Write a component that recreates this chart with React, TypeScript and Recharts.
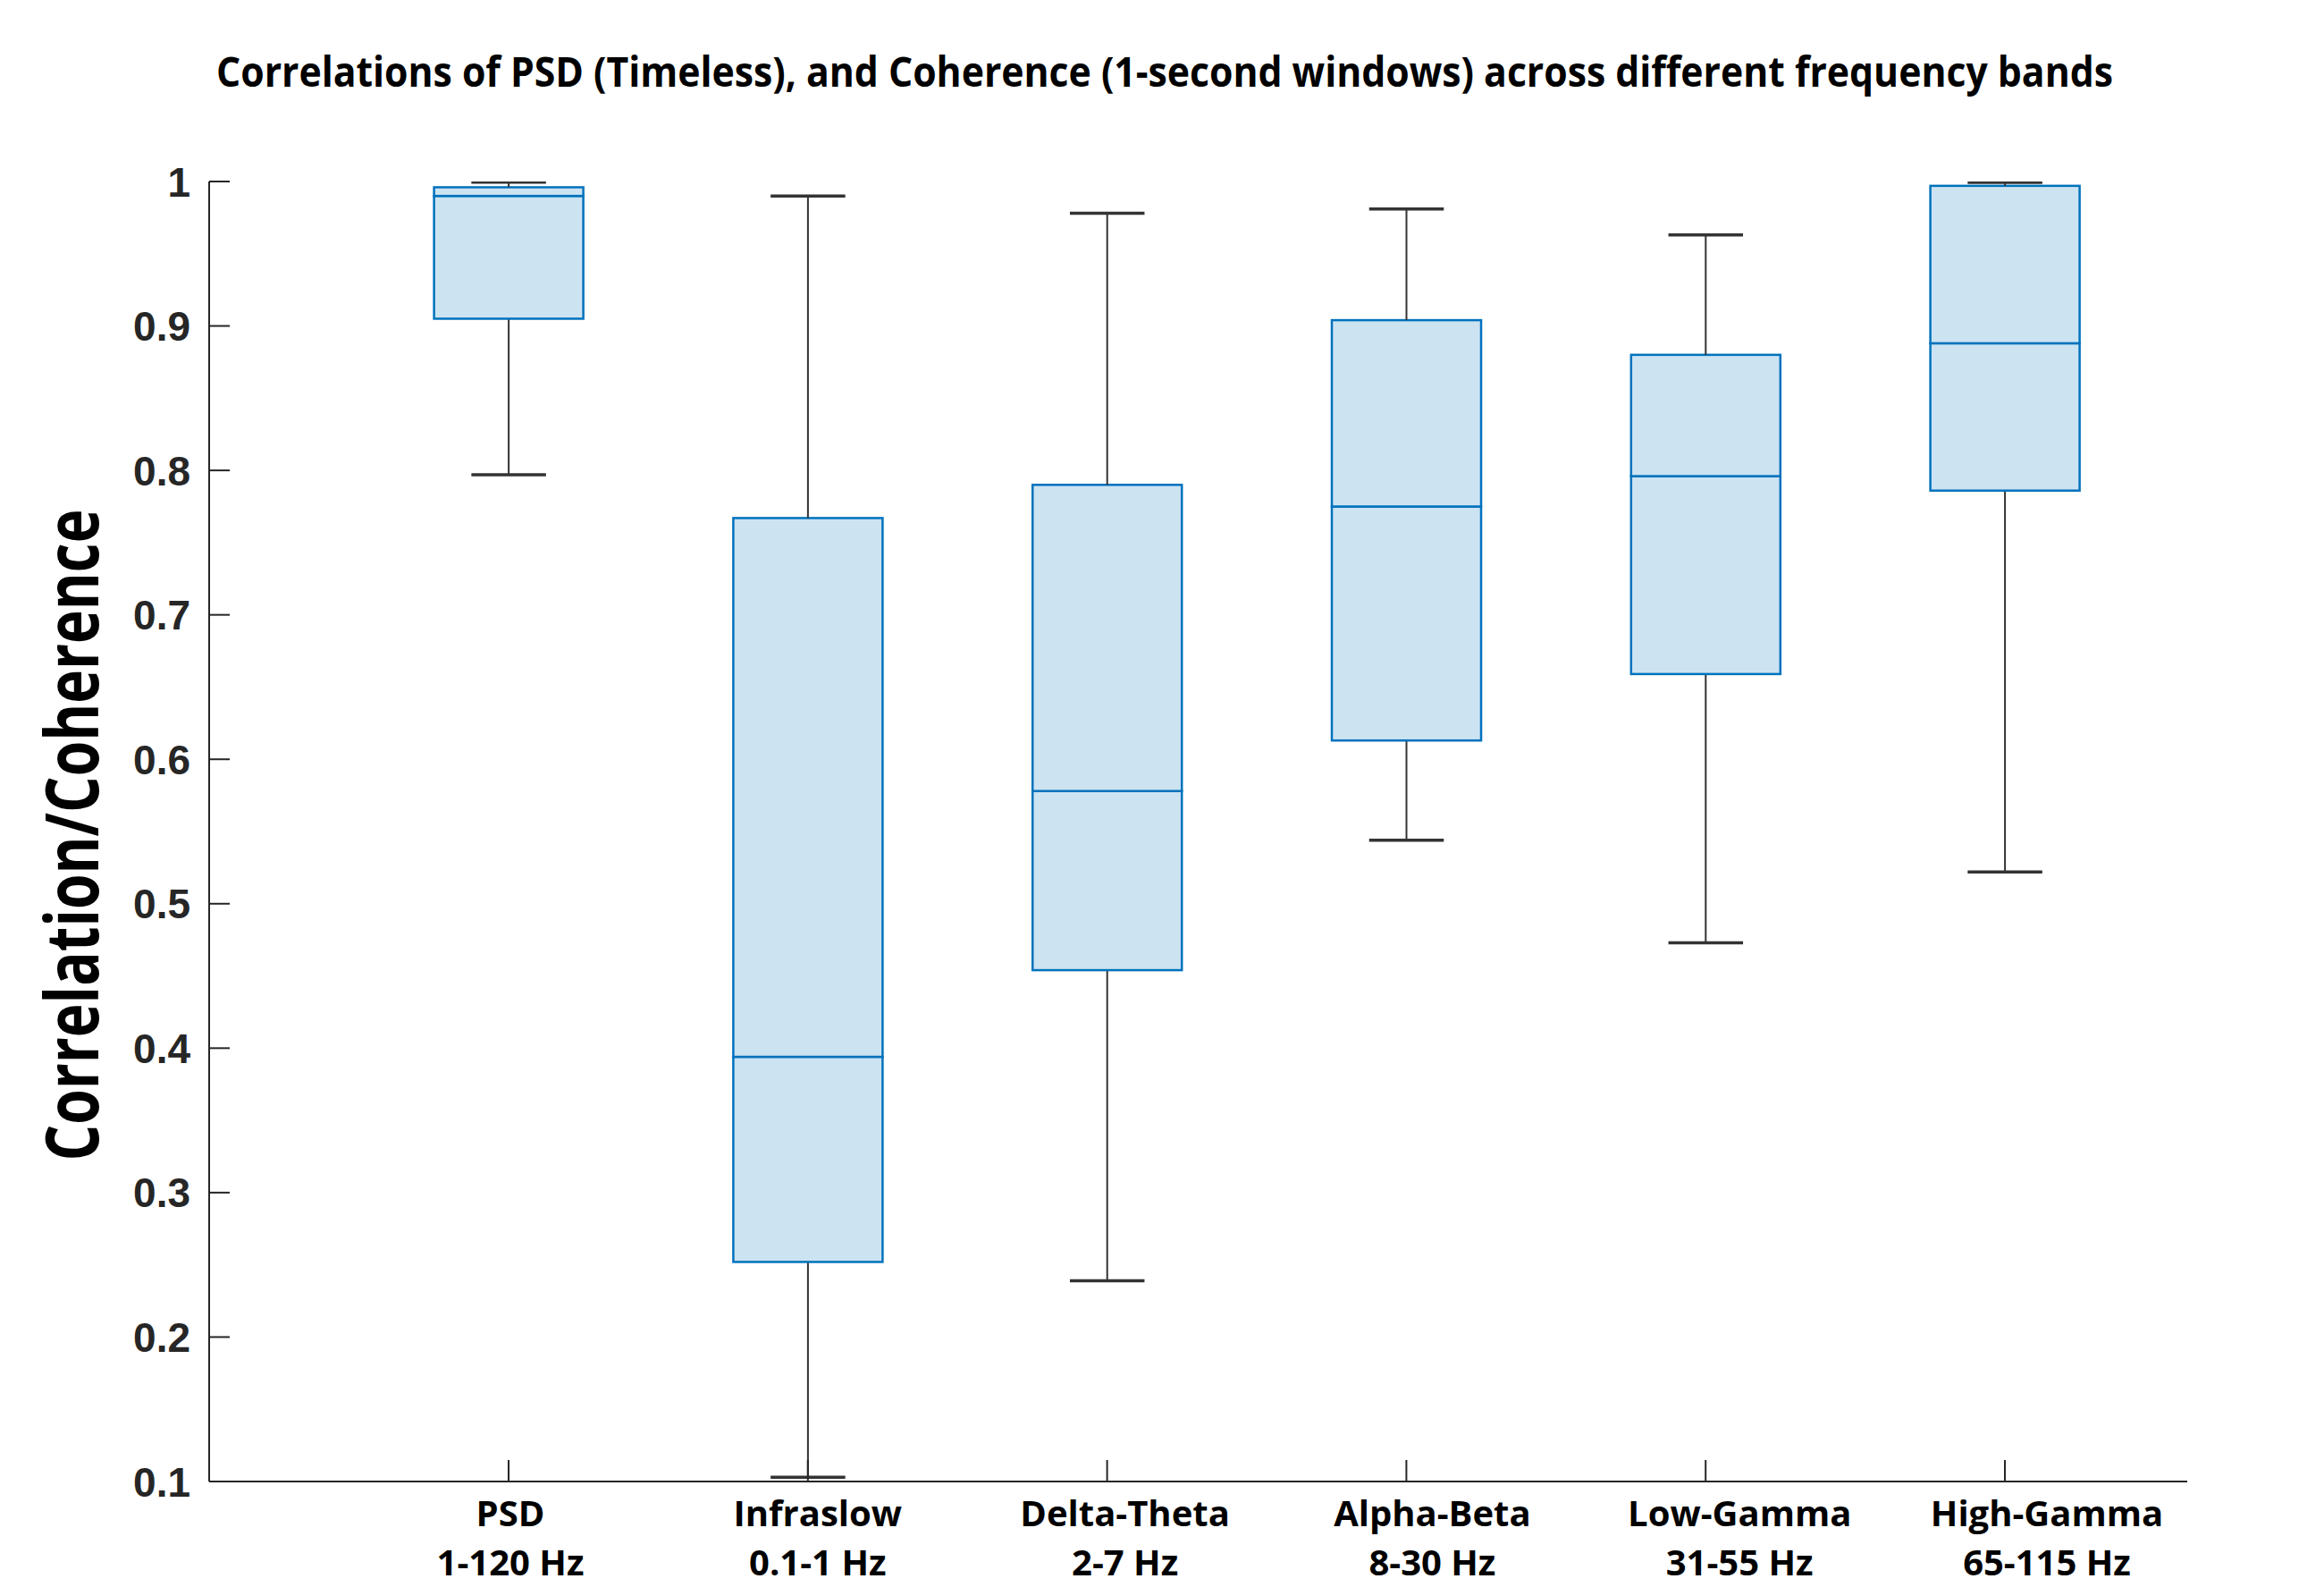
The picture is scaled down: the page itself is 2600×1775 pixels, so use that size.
import { ComposedChart, Bar, XAxis, YAxis } from "recharts";

// band names and frequency ranges (x tick labels, two lines)
const bands = ["PSD", "Infraslow", "Delta-Theta", "Alpha-Beta", "Low-Gamma", "High-Gamma"];
const ranges = ["1-120 Hz", "0.1-1 Hz", "2-7 Hz", "8-30 Hz", "31-55 Hz", "65-115 Hz"];

// box plot statistics
const whiskerLow = [0.797, 0.103, 0.239, 0.544, 0.473, 0.522];
const q1 = [0.905, 0.252, 0.454, 0.613, 0.659, 0.786];
const median = [0.99, 0.394, 0.578, 0.775, 0.796, 0.888];
const q3 = [0.996, 0.767, 0.79, 0.904, 0.88, 0.997];
const whiskerHigh = [0.9995, 0.99, 0.978, 0.981, 0.963, 0.9994];

const yTicks = [0.1, 0.2, 0.3, 0.4, 0.5, 0.6, 0.7, 0.8, 0.9, 1];

const BOX_FILL = "#cce3f2";
const BOX_EDGE = "#0072bd";
const WHISKER = "#333333";
const AXIS = "#262626";

// stacked segments: base -> lower whisker -> lower box -> upper box -> upper whisker
const data = bands.map((name, i) => ({
  name,
  range: ranges[i],
  base: whiskerLow[i],
  lowW: q1[i] - whiskerLow[i],
  boxLo: median[i] - q1[i],
  boxHi: q3[i] - median[i],
  upW: whiskerHigh[i] - q3[i],
}));

const LowerWhisker = (p: any) => {
  const cx = p.x + p.width / 2;
  const bottom = p.y + p.height;
  return (
    <g>
      <line x1={cx} x2={cx} y1={p.y} y2={bottom} stroke={WHISKER} strokeWidth={2} />
      <line x1={p.x + p.width / 4} x2={p.x + (3 * p.width) / 4} y1={bottom} y2={bottom} stroke={WHISKER} strokeWidth={3.5} />
    </g>
  );
};

const UpperWhisker = (p: any) => {
  const cx = p.x + p.width / 2;
  return (
    <g>
      <line x1={cx} x2={cx} y1={p.y} y2={p.y + p.height} stroke={WHISKER} strokeWidth={2} />
      <line x1={p.x + p.width / 4} x2={p.x + (3 * p.width) / 4} y1={p.y} y2={p.y} stroke={WHISKER} strokeWidth={3.5} />
    </g>
  );
};

const BoxPart = (p: any) => (
  <rect x={p.x} y={p.y} width={p.width} height={p.height} fill={BOX_FILL} stroke={BOX_EDGE} strokeWidth={2.5} />
);

const YTick = (p: any) => {
  const v = p.payload.value;
  return (
    <g>
      <line x1={p.x} x2={p.x + 23} y1={p.y} y2={p.y} stroke={AXIS} strokeWidth={2} />
      <text
        x={p.x - 21}
        y={p.y}
        dy="0.36em"
        textAnchor="end"
        fill={AXIS}
        fontFamily="Liberation Sans, Arial, sans-serif"
        fontWeight={700}
        fontSize={46}
      >
        {v === 1 ? "1" : v.toFixed(1)}
      </text>
    </g>
  );
};

const XTick = (p: any) => {
  const i = bands.indexOf(p.payload.value);
  // labels in the figure drift slightly right of their ticks
  const lx = p.x + 2 + 9 * i;
  return (
    <g>
      <line x1={p.x} x2={p.x} y1={p.y} y2={p.y - 24} stroke={AXIS} strokeWidth={2} />
      <text x={lx} y={p.y + 50} textAnchor="middle" fill="#000" fontFamily="Open Sans, sans-serif" fontWeight={700} fontSize={40}>
        {p.payload.value}
      </text>
      <text x={lx} y={p.y + 105} textAnchor="middle" fill="#000" fontFamily="Open Sans, sans-serif" fontWeight={700} fontSize={40}>
        {ranges[i]}
      </text>
    </g>
  );
};

export default function App() {
  return (
    <div style={{ position: "absolute", left: 0, top: 0, width: 2600, height: 1775, background: "#fff" }}>
      <ComposedChart width={2600} height={1775} data={data} margin={{ top: 203, right: 153, bottom: 0, left: 0 }}>
        <XAxis
          dataKey="name"
          height={118}
          padding={{ left: 167.6, right: 36.6 }}
          axisLine={{ stroke: AXIS, strokeWidth: 2 }}
          tickLine={false}
          tickSize={0}
          tickMargin={0}
          interval={0}
          tick={<XTick />}
        />
        <YAxis
          type="number"
          domain={[0.1, 1]}
          allowDataOverflow
          ticks={yTicks}
          width={234}
          axisLine={{ stroke: AXIS, strokeWidth: 2 }}
          tickLine={false}
          tickSize={0}
          tickMargin={0}
          interval={0}
          tick={<YTick />}
        />
        <Bar dataKey="base" stackId="b" barSize={167} fill="none" isAnimationActive={false} />
        <Bar dataKey="lowW" stackId="b" barSize={167} shape={<LowerWhisker />} isAnimationActive={false} />
        <Bar dataKey="boxLo" stackId="b" barSize={167} shape={<BoxPart />} isAnimationActive={false} />
        <Bar dataKey="boxHi" stackId="b" barSize={167} shape={<BoxPart />} isAnimationActive={false} />
        <Bar dataKey="upW" stackId="b" barSize={167} shape={<UpperWhisker />} isAnimationActive={false} />
      </ComposedChart>
      <svg width={2600} height={1775} style={{ position: "absolute", left: 0, top: 0, pointerEvents: "none" }}>
        <text
          x={1303}
          y={97}
          textAnchor="middle"
          fontFamily="Open Sans, sans-serif"
          fontWeight={700}
          fontSize={47}
          textLength={2122}
          lengthAdjust="spacingAndGlyphs"
          fill="#000"
        >
          Correlations of PSD (Timeless), and Coherence (1-second windows) across different frequency bands
        </text>
        <text
          x={110}
          y={934}
          transform="rotate(-90 110 934)"
          textAnchor="middle"
          fontFamily="Open Sans, sans-serif"
          fontWeight={700}
          fontSize={82}
          textLength={729}
          lengthAdjust="spacingAndGlyphs"
          fill="#000"
        >
          Correlation/Coherence
        </text>
      </svg>
    </div>
  );
}
